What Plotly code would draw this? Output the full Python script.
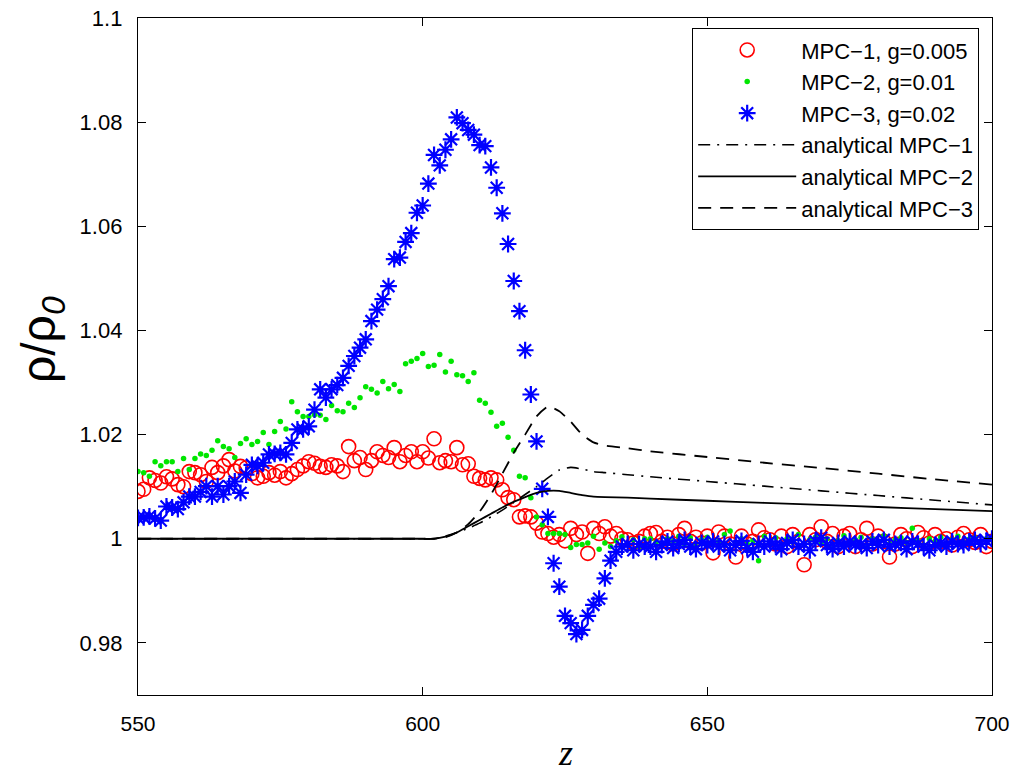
import plotly.graph_objects as go

# ---------------- data ----------------
z_sim = list(range(550, 701))

mpc1 = [
    1.0091, 1.0095, 1.0117, 1.0112, 1.0107, 1.0119, 1.0115, 1.0104, 1.0100, 1.0129,
    1.0127, 1.0123, 1.0110, 1.0137, 1.0127, 1.0140, 1.0152, 1.0130, 1.0139, 1.0136,
    1.0125, 1.0117, 1.0120, 1.0127, 1.0122, 1.0129, 1.0117, 1.0125, 1.0133, 1.0140,
    1.0148, 1.0145, 1.0139, 1.0137, 1.0142, 1.0140, 1.0129, 1.0177, 1.0150, 1.0156,
    1.0133, 1.0150, 1.0167, 1.0160, 1.0156, 1.0175, 1.0148, 1.0160, 1.0167, 1.0148,
    1.0167, 1.0155, 1.0192, 1.0146, 1.0150, 1.0148, 1.0175, 1.0142, 1.0144, 1.0120,
    1.0116, 1.0113, 1.0117, 1.0113, 1.0094, 1.0079, 1.0075, 1.0042, 1.0044, 1.0042,
    1.0030, 1.0013, 1.0010, 1.0003, 1.0008, 0.9996, 1.0020, 1.0008, 1.0013, 0.9972,
    1.0020, 1.0010, 1.0023, 1.0005, 1.0010, 1.0000, 0.9998, 0.9992, 0.9995, 1.0005,
    1.0010, 1.0012, 0.9995, 1.0003, 0.9990, 1.0008, 1.0020, 0.9995, 1.0003, 0.9992,
    1.0005, 0.9973, 1.0013, 1.0005, 0.9990, 0.9965, 1.0005, 0.9990, 0.9995, 1.0017,
    1.0002, 0.9998, 0.9990, 1.0005, 0.9985, 1.0008, 0.9995, 0.9950, 1.0008, 0.9998,
    1.0023, 0.9995, 1.0010, 0.9985, 1.0005, 1.0010, 0.9985, 0.9998, 1.0020, 0.9990,
    1.0005, 0.9995, 0.9965, 0.9990, 1.0008, 1.0000, 0.9985, 1.0012, 1.0002, 0.9992,
    1.0008, 0.9995, 1.0000, 0.9988, 1.0003, 1.0010, 0.9998, 0.9993, 1.0008, 0.9985,
    0.9995,
]

mpc2 = [
    1.0129, 1.0127, 1.0120, 1.0148, 1.0140, 1.0148, 1.0148, 1.0129, 1.0154, 1.0133,
    1.0154, 1.0163, 1.0160, 1.0170, 1.0188, 1.0177, 1.0173, 1.0156, 1.0183, 1.0192,
    1.0181, 1.0187, 1.0204, 1.0181, 1.0206, 1.0225, 1.0211, 1.0263, 1.0244, 1.0235,
    1.0235, 1.0238, 1.0237, 1.0229, 1.0256, 1.0246, 1.0244, 1.0260, 1.0252, 1.0271,
    1.0292, 1.0287, 1.0280, 1.0302, 1.0288, 1.0296, 1.0283, 1.0336, 1.0341, 1.0346,
    1.0356, 1.0331, 1.0333, 1.0354, 1.0320, 1.0341, 1.0315, 1.0313, 1.0302, 1.0319,
    1.0266, 1.0260, 1.0243, 1.0216, 1.0222, 1.0195, 1.0170, 1.0120, 1.0117, 1.0079,
    1.0042, 1.0027, 1.0010, 1.0010, 1.0010, 1.0008, 0.9983, 0.9989, 0.9989, 0.9992,
    1.0005, 0.9980, 0.9992, 0.9985, 0.9996, 1.0004, 0.9990, 0.9998, 0.9985, 1.0000,
    1.0000, 0.9993, 0.9988, 1.0000, 0.9995, 1.0005, 0.9990, 1.0002, 0.9985, 0.9998,
    1.0003, 0.9990, 0.9995, 1.0008, 1.0015, 0.9992, 1.0000, 0.9990, 0.9996, 0.9958,
    1.0005, 0.9995, 1.0002, 0.9988, 1.0000, 0.9994, 1.0008, 0.9990, 0.9998, 1.0003,
    0.9992, 1.0000, 0.9988, 0.9996, 1.0006, 0.9990, 0.9998, 1.0003, 0.9985, 1.0000,
    0.9995, 1.0006, 0.9990, 0.9998, 1.0002, 0.9993, 1.0020, 0.9996, 0.9988, 1.0000,
    0.9995, 1.0003, 0.9990, 0.9998, 1.0005, 0.9993, 0.9999, 1.0002, 0.9990, 1.0000,
    0.9998,
]

mpc3 = [
    1.0040, 1.0041, 1.0043, 1.0039, 1.0035, 1.0062, 1.0060, 1.0057, 1.0070, 1.0081,
    1.0081, 1.0090, 1.0101, 1.0081, 1.0101, 1.0085, 1.0101, 1.0110, 1.0088, 1.0123,
    1.0142, 1.0140, 1.0146, 1.0162, 1.0163, 1.0165, 1.0162, 1.0184, 1.0210, 1.0210,
    1.0216, 1.0248, 1.0287, 1.0271, 1.0287, 1.0295, 1.0309, 1.0332, 1.0351, 1.0367,
    1.0383, 1.0418, 1.0440, 1.0460, 1.0485, 1.0537, 1.0540, 1.0570, 1.0587, 1.0626,
    1.0640, 1.0682, 1.0737, 1.0717, 1.0747, 1.0767, 1.0809, 1.0798, 1.0785, 1.0776,
    1.0756, 1.0754, 1.0713, 1.0674, 1.0625, 1.0566, 1.0495, 1.0437, 1.0362, 1.0277,
    1.0187, 1.0096, 1.0042, 0.9953, 0.9908, 0.9852, 0.9838, 0.9817, 0.9825, 0.9852,
    0.9873, 0.9885, 0.9924, 0.9958, 0.9975, 0.9985, 0.9990, 0.9978, 0.9990, 0.9985,
    0.9985, 0.9975, 0.9988, 0.9995, 0.9982, 0.9990, 0.9998, 0.9985, 0.9980, 0.9992,
    0.9988, 0.9995, 0.9985, 0.9990, 0.9978, 0.9988, 0.9996, 0.9982, 0.9975, 0.9990,
    0.9985, 0.9995, 0.9988, 0.9980, 0.9992, 0.9998, 0.9985, 0.9990, 0.9978, 0.9995,
    1.0002, 0.9988, 0.9980, 0.9992, 0.9985, 0.9995, 0.9988, 0.9990, 0.9982, 0.9995,
    0.9988, 0.9998, 0.9985, 0.9990, 0.9992, 0.9980, 0.9995, 0.9990, 0.9985, 0.9978,
    0.9988, 0.9992, 0.9985, 0.9995, 0.9990, 0.9988, 0.9995, 0.9998, 0.9990, 0.9996,
    1.0000,
]

z_an = [550, 600, 602, 604, 606, 608, 610, 612, 614, 616, 618, 620, 622,
        624, 626, 628, 630, 632, 636, 640, 650, 660, 670, 680, 690, 700]
an_mpc1 = [1.0, 1.0, 1.0, 1.0005, 1.0012, 1.0020, 1.0030, 1.0042, 1.0055, 1.0070,
           1.0085, 1.0100, 1.0117, 1.0132, 1.0137, 1.0134, 1.0129, 1.0127, 1.0123,
           1.0119, 1.0110, 1.0101, 1.0092, 1.0083, 1.0074, 1.0065]
an_mpc2 = [1.0, 1.0, 1.0, 1.0004, 1.0012, 1.0024, 1.0036, 1.0048, 1.0060, 1.0071,
           1.0080, 1.0088, 1.0092, 1.0092, 1.0088, 1.0084, 1.0081, 1.0080, 1.0079,
           1.0077, 1.0073, 1.0069, 1.0065, 1.0061, 1.0057, 1.0053]
an_mpc3 = [1.0, 1.0, 1.0, 1.0003, 1.0012, 1.0028, 1.0052, 1.0085, 1.0125, 1.0165,
           1.0200, 1.0235, 1.0254, 1.0245, 1.0225, 1.0200, 1.0185, 1.0179, 1.0174,
           1.0168, 1.0157, 1.0146, 1.0136, 1.0125, 1.0114, 1.0104]

y_ticks = [0.98, 1.0, 1.02, 1.04, 1.06, 1.08, 1.1]
y_tick_text = ["0.98", "1", "1.02", "1.04", "1.06", "1.08", "1.1"]
x_ticks = [550, 600, 650, 700]

FONT = "Liberation Sans, Arial, Helvetica, sans-serif"

fig = go.Figure()
fig.add_trace(go.Scatter(
    x=z_sim, y=mpc1, mode="markers", name="MPC\u22121, g=0.005",
    marker=dict(symbol="circle-open", size=14, color="#ff0000",
                line=dict(width=1.6, color="#ff0000"))))
fig.add_trace(go.Scatter(
    x=z_sim, y=mpc2, mode="markers", name="MPC\u22122, g=0.01",
    marker=dict(symbol="circle", size=5.5, color="#00e600", line=dict(width=0))))
fig.add_trace(go.Scatter(
    x=z_sim, y=mpc3, mode="markers", name="MPC\u22123, g=0.02",
    marker=dict(symbol="asterisk-open", size=14, color="#0000ff",
                line=dict(width=2.2, color="#0000ff"))))
fig.add_trace(go.Scatter(
    x=z_an, y=an_mpc1, mode="lines", name="analytical MPC\u22121",
    line=dict(color="black", width=1.6, dash="12px,7px,2px,7px",
              shape="spline", smoothing=0.5)))
fig.add_trace(go.Scatter(
    x=z_an, y=an_mpc2, mode="lines", name="analytical MPC\u22122",
    line=dict(color="black", width=1.8, shape="spline", smoothing=0.5)))
fig.add_trace(go.Scatter(
    x=z_an, y=an_mpc3, mode="lines", name="analytical MPC\u22123",
    line=dict(color="black", width=1.8, dash="13px,9px",
              shape="spline", smoothing=0.5)))

axis_common = dict(showline=True, linecolor="black", linewidth=1.3, mirror="ticks",
                   ticks="inside", ticklen=8, tickwidth=1, tickcolor="black",
                   showgrid=False, zeroline=False, automargin=False)

fig.update_xaxes(range=[550, 700], tickvals=x_ticks, ticklabelstandoff=10,
                 tickfont=dict(family=FONT, size=21, color="black"), **axis_common)
fig.update_yaxes(range=[0.97, 1.1], tickvals=y_ticks, ticktext=y_tick_text,
                 ticklabelstandoff=10,
                 tickfont=dict(family=FONT, size=22, color="black"), **axis_common)

fig.add_annotation(text="\u03c1/\u03c1<sub><i>0</i></sub>", xref="paper", yref="paper",
                   x=-0.113, y=0.525, textangle=-90, showarrow=False,
                   xanchor="center", yanchor="middle",
                   font=dict(family=FONT, size=48, color="black"))
fig.add_annotation(text="<i>z</i>", xref="paper", yref="paper",
                   x=0.5, y=-0.085, showarrow=False, xanchor="center", yanchor="middle",
                   font=dict(family="Liberation Serif, Times New Roman, serif",
                             size=36, color="black"))

fig.update_layout(
    width=1015, height=772, autosize=False,
    margin=dict(l=138, r=23, t=18, b=77),
    paper_bgcolor="white", plot_bgcolor="white",
    font=dict(family=FONT, color="black"),
    showlegend=True,
    legend=dict(x=0.985, y=0.985, xanchor="right", yanchor="top",
                bgcolor="white", bordercolor="black", borderwidth=1,
                font=dict(family=FONT, size=22, color="black"),
                itemwidth=98, tracegroupgap=0),
)

fig.write_html("out.html",
               config={"displayModeBar": False, "responsive": False},
               post_script="document.body.style.margin='0';"
                           "document.body.style.overflow='hidden';")
